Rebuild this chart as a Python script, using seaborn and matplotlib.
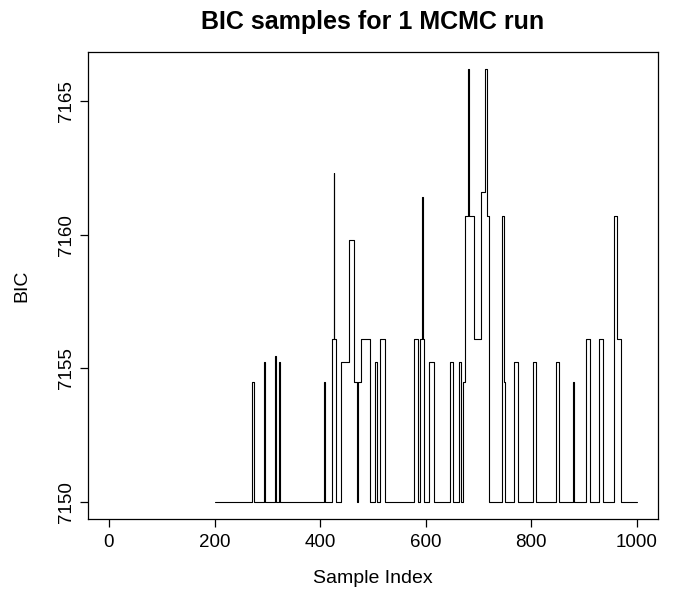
import matplotlib
matplotlib.use("Agg")
import matplotlib.pyplot as plt
import seaborn as sns

# BIC levels visited by the chain
B = 7150.0
L1 = 7154.5
L2 = 7155.25
L2b = 7155.45
L3 = 7156.1
L4 = 7159.8
L5 = 7160.7
L6 = 7161.4
L6b = 7161.6
L7 = 7162.3
L8 = 7166.2

# sample index where the chain jumps, and the BIC it jumps to
jump_index = [200, 271, 275, 293, 295, 314, 316, 322, 324, 407, 409,
              423, 426, 427, 431, 440, 455, 464, 470, 471, 477, 494,
              504, 507, 514, 523, 577, 586, 590, 593, 594, 597, 607,
              616, 646, 652, 663, 666, 670, 674, 675, 680, 682, 692,
              704, 713, 716, 719, 745, 748, 750, 767, 775, 804, 809,
              847, 853, 878, 881, 903, 911, 928, 936, 956, 963, 970]
jump_bic = [B, L1, B, L2, B, L2b, B, L2, B, L1, B,
            L3, L7, L3, B, L2, L4, L1, B, L1, L3, B,
            L2, B, L3, B, L3, B, L3, L6, L3, B, L2,
            B, L2, B, L2, B, L1, L3, L5, L8, L5, L3,
            L6b, L8, L5, B, L5, L1, B, L2, B, L2, B,
            L2, B, L1, B, L3, B, L3, B, L5, L3, B]
last_index = 1000

x = jump_index + [last_index]
y = jump_bic + [jump_bic[-1]]

sns.set_style("ticks")
plt.rcParams['font.family'] = ['Liberation Sans', 'DejaVu Sans']
plt.rcParams['text.color'] = 'black'
plt.rcParams['axes.labelcolor'] = 'black'

fig = plt.figure(figsize=(6.75, 5.92), dpi=100)
ax = fig.add_axes([0.130, 0.123, 0.845, 0.790])

sns.lineplot(x=x, y=y, ax=ax, color='black', linewidth=0.8,
             drawstyle='steps-post', estimator=None, sort=False)

ax.set_xlim(-40, 1040)
ax.set_ylim(7149.35, 7166.85)
ax.set_xticks([0, 200, 400, 600, 800, 1000])
ax.set_yticks([7150, 7155, 7160, 7165])
for lab in ax.get_yticklabels():
    lab.set_rotation(90)
    lab.set_va('center')

for s in ax.spines.values():
    s.set_visible(True)
    s.set_linewidth(0.9)
    s.set_color('black')
ax.tick_params(direction='out', length=6, width=0.9, labelsize=13.5,
               colors='black')
ax.tick_params(axis='x', pad=5)
ax.tick_params(axis='y', pad=3)

ax.set_xlabel("Sample Index", fontsize=14, labelpad=13)
ax.set_ylabel("BIC", fontsize=14, labelpad=20)
ax.set_title("BIC samples for 1 MCMC run", fontsize=18, fontweight='bold', pad=16)

fig.savefig("out.png", dpi=100)
